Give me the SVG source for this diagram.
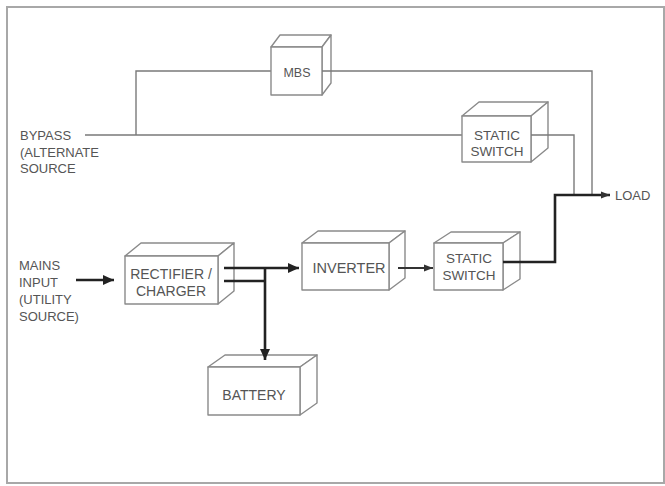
<svg xmlns="http://www.w3.org/2000/svg" width="665" height="486" viewBox="0 0 665 486">
<style>
.frame{fill:#fff;stroke:#a8a8a8;stroke-width:2}
.box{fill:#fff;stroke:#8a8a8a;stroke-width:1.4;stroke-linejoin:round}
.t{font-family:"Liberation Sans",Arial,sans-serif;font-size:13px;fill:#555}
.c{text-anchor:middle;font-size:14px}
.thin{fill:none;stroke:#7a7a7a;stroke-width:1.4}
.thick{fill:none;stroke:#222;stroke-width:2.6}
.med{fill:none;stroke:#333;stroke-width:1.8}
</style>
<defs>
<marker id="ah" markerUnits="userSpaceOnUse" markerWidth="12" markerHeight="12" refX="11" refY="6" orient="auto">
<path d="M0,1 L11,6 L0,11 Z" fill="#222"/>
</marker>
<marker id="ahs" markerUnits="userSpaceOnUse" markerWidth="10" markerHeight="10" refX="9" refY="5" orient="auto">
<path d="M0,1.5 L9,5 L0,8.5 Z" fill="#333"/>
</marker>
</defs>
<rect class="frame" x="7" y="7" width="657" height="476"/>
<g id="connectors-under">
<path class="thin" d="M85,135 H462 M136,135 V71 H271"/>
</g>
<g id="mbs">
<path class="box" d="M271,47 L280,35 H331 L322,47 Z"/>
<path class="box" d="M322,47 L331,35 V83 L322,95 Z"/>
<rect class="box" x="271" y="47" width="51" height="48"/>
<text class="t c" x="297" y="77" style="font-size:12.5px">MBS</text>
</g>
<g id="static-switch-bypass">
<path class="box" d="M462,116 L479,102 H548 L531,116 Z"/>
<path class="box" d="M531,116 L548,102 V148 L531,162 Z"/>
<rect class="box" x="462" y="116" width="69" height="46"/>
<text class="t c" x="497" y="140" style="font-size:13.5px">STATIC</text>
<text class="t c" x="497" y="156" style="font-size:13.5px">SWITCH</text>
</g>
<g id="rectifier">
<path class="box" d="M125,256 L141,243 H234 L218,256 Z"/>
<path class="box" d="M218,256 L234,243 V291 L218,304 Z"/>
<rect class="box" x="125" y="256" width="93" height="48"/>
<text class="t c" x="171" y="279">RECTIFIER /</text>
<text class="t c" x="171" y="296">CHARGER</text>
</g>
<g id="inverter">
<path class="box" d="M302,243 L318,231 H405 L389,243 Z"/>
<path class="box" d="M389,243 L405,231 V278 L389,290 Z"/>
<rect class="box" x="302" y="243" width="87" height="47"/>
<text class="t c" x="349" y="273" style="font-size:14.5px">INVERTER</text>
</g>
<g id="static-switch-main">
<path class="box" d="M434,243 L451,232 H520 L503,243 Z"/>
<path class="box" d="M503,243 L520,232 V279 L503,290 Z"/>
<rect class="box" x="434" y="243" width="69" height="47"/>
<text class="t c" x="469" y="263" style="font-size:13.5px">STATIC</text>
<text class="t c" x="469" y="280" style="font-size:13.5px">SWITCH</text>
</g>
<g id="battery">
<path class="box" d="M208,367 L225,355 H317 L300,367 Z"/>
<path class="box" d="M300,367 L317,355 V403 L300,415 Z"/>
<rect class="box" x="208" y="367" width="92" height="48"/>
<text class="t c" x="254" y="400">BATTERY</text>
</g>
<g id="connectors">
<path class="thin" d="M322,71 H592 V195"/>
<path class="thin" d="M531,135 H574 V195"/>
<path class="thick" d="M76,280 H114" marker-end="url(#ah)"/>
<path class="thick" d="M224,268 H299" marker-end="url(#ah)"/>
<path class="thick" d="M224,281 H265"/>
<path class="thick" d="M265,268 V360" marker-end="url(#ah)"/>
<path class="med" d="M398,268 H433" marker-end="url(#ahs)"/>
<path class="thick" d="M503,262 H555 V195 H610" marker-end="url(#ahs)"/>
</g>
<g id="labels">
<text class="t" x="20" y="140">BYPASS</text>
<text class="t" x="20" y="157">(ALTERNATE</text>
<text class="t" x="20" y="173">SOURCE</text>
<text class="t" x="19" y="270">MAINS</text>
<text class="t" x="19" y="287">INPUT</text>
<text class="t" x="19" y="304">(UTILITY</text>
<text class="t" x="19" y="321">SOURCE)</text>
<text class="t" x="615" y="200">LOAD</text>
</g>
</svg>
